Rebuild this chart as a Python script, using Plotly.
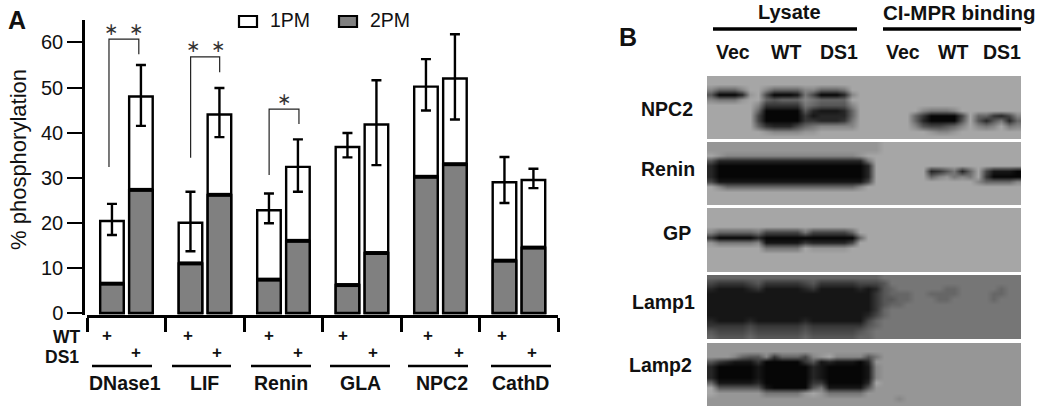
"""Phosphorylation bars (A) and western blot panels (B) on one figure."""

import plotly.graph_objects as go

WIDTH = 1050
HEIGHT = 408
INK = "#111111"
FONT = "Liberation Sans"

# Panel A values, two bars per protein (WT, DS1)
PROTEINS = ["DNase1", "LIF", "Renin", "GLA", "NPC2", "CathD"]
TOTAL = [20.4, 48.0, 20.0, 44.0, 22.8, 32.4, 36.8, 41.8, 50.2, 52.0, 29.0, 29.5]
PM2 = [6.5, 27.3, 11.0, 26.2, 7.4, 16.0, 6.2, 13.3, 30.2, 33.0, 11.6, 14.5]
ERR_UP = [3.8, 7.0, 6.9, 5.9, 3.7, 6.1, 3.1, 9.8, 6.1, 9.8, 5.6, 2.5]
ERR_DOWN = [3.1, 6.5, 6.3, 5.0, 2.9, 5.5, 2.3, 9.0, 5.3, 9.1, 4.6, 1.8]

# Significance brackets: group position of each leg, leg ends and top
BRACKET_LEFT = [0.28, 1.32, 2.32]
BRACKET_RIGHT = [0.66, 1.69, 2.70]
BRACKET_LOW = [32.4, 34.4, 30.6]
BRACKET_HIGH = [57.4, 53.4, 41.9]
BRACKET_TOP = [60.75, 56.8, 45.2]
BRACKET_STARS = ["∗  ∗", "∗  ∗", "∗"]

# Blot density per panel, one hex digit per cell (0 = black film, f = pale)
NPC2_BLOT = [
    "aaaaaaaaaaaaaaaaaaaaaaaaaaaaaaaaaaaaaaaa",
    "aaaaaaaaaaaaaaaaaaaaaaaaaaaaaaaaaaaaaaaa",
    "86668aa86666886667a",
    "500029a400017400028a",
    "87779aa65666876666a",
    "aaaaaa8333337655558a",
    "aaaaaa6000005211126aaaaaaaa87778",
    "aaaaaa4000003122226aaaaaaa6300004a663248",
    "aaaaaa4000003322237aaaaaaa6200005a525726",
    "aaaaaa6322246788888aaaaaaa8544568a878a78",
    "aaaaaaa9888899aaaaaaaaaaaaaa9889",
    "aaaaaaaaaaaaaaaaaaaaaaaaaaaaaaaaaaaaaaaa",
]
RENIN_BLOT = [
    "9999999999999999999999aaaaaaaaaaaaaaaaaa",
    "9999999999999999999999aaaaaaaaaaaaaaaaaa",
    "a9888888888888888889aa",
    "522222222222222222227a",
    "200000000000000000002a",
    "200000000000000000002aaaaaaa235726a41110",
    "200000000000000000002aaaaaaa689787a30000",
    "411111111111111111114aaaaaaaaaaaaa866668",
    "a8666666666666666668aa",
    "aaaaaaaaaaaaaaaaaaaaaa",
    "aaaaaaaaaaaaaaaaaaaaaa",
    "aaaaaaaaaaaaaaaaaaaaaa",
]
GP_BLOT = [
    "aaaaaaaaaaaaaaaaaaaaaaaaaaaaaaaaaaaaaaaa",
    "aaaaaaaaaaaaaaaaaaaaaaaaaaaaaaaaaaaaaaaa",
    "aaaaaaaaaaaaaaaaaaaaaaaaaaaaaaaaaaaaaaaa",
    "aaaaaaaaaaaaaaaaaaaaaaaaaaaaaaaaaaaaaaaa",
    "8666667444447444446a",
    "30000020000000000006",
    "97777781111132222 4a".replace(" ", "2"),
    "aaaaaaa77777a99999aa",
    "aaaaaaaaaaaaaaaaaaaaaaaaaaaaaaaaaaaaaaaa",
    "aaaaaaaaaaaaaaaaaaaaaaaaaaaaaaaaaaaaaaaa",
    "aaaaaaaaaaaaaaaaaaaaaaaaaaaaaaaaaaaaaaaa",
    "aaaaaaaaaaaaaaaaaaaaaaaaaaaaaaaaaaaaaaaa",
]
LAMP1_BLOT = [
    "6666666666666666666666777777777777777777",
    "4333345333334533333444577777777777777777",
    "2111123111112311111212567777776677777677",
    "1111111111111111111113566677666677776677",
    "1111111111111111111113556677766777776777",
    "1111111111111111111113566777777777777777",
    "1111111111111111111113677777777777777777",
    "1111111111111111111124677777777777777777",
    "2111121111112111111146777777777777777777",
    "3333343333334333333356777777777777777777",
    "5444454444445444444567777777777777777777",
    "6555565555556555555667777777777777777777",
]
LAMP2_BLOT = [
    "9999999999999999999999999999999999999999",
    "9999999999999999999999999999999999999999",
    "9998655836664 9a888857999".replace(" ", "8"),
    "532111300000351211102999",
    "200000100000021000001899",
    "200000100000021000001899",
    "200000100000021000001899",
    "611111200000033000002a99",
    "a55555510000057111115999",
    "a999999777779a9777779999",
    "9999999999999999999999998999999999999999",
    "9999999999999999999999999999999999999999",
]
BLOT_BACKGROUND = ["a", "a", "a", "7", "9"]
BLOTS = [NPC2_BLOT, RENIN_BLOT, GP_BLOT, LAMP1_BLOT, LAMP2_BLOT]
BLOT_NAMES = ["NPC2", "Renin", "GP", "Lamp1", "Lamp2"]


def px_x(x: float) -> float:
    """Page pixel to paper x."""
    return x / WIDTH


def px_y(y: float) -> float:
    """Page pixel (from top) to paper y."""
    return 1 - y / HEIGHT


def label(x, y, text, size, bold=True, color=INK, **kwargs) -> dict:
    """Text placed by page pixel."""
    return dict(
        x=px_x(x),
        y=px_y(y),
        xref="paper",
        yref="paper",
        text=f"<b>{text}</b>" if bold else text,
        showarrow=False,
        font={"family": FONT, "size": size, "color": color},
        xanchor=kwargs.pop("xanchor", "center"),
        yanchor="middle",
        **kwargs,
    )


def rule(x0, x1, y, width=2.5) -> dict:
    """Horizontal black rule placed by page pixel."""
    return dict(
        type="line",
        xref="paper",
        yref="paper",
        x0=px_x(x0),
        x1=px_x(x1),
        y0=px_y(y),
        y1=px_y(y),
        line={"color": "#000000", "width": width},
    )


def box(x0, x1, y0, y1, fill) -> dict:
    """Legend swatch placed by page pixel."""
    return dict(
        type="rect",
        xref="paper",
        yref="paper",
        x0=px_x(x0),
        x1=px_x(x1),
        y0=px_y(y0),
        y1=px_y(y1),
        fillcolor=fill,
        line={"color": "#000000", "width": 2.2},
    )


fig = go.Figure()

# Bars sit at fixed offsets inside each protein's group
bar_x = [group + offset for group in range(len(PROTEINS)) for offset in (0.318, 0.687)]

fig.add_trace(
    go.Bar(
        x=bar_x,
        y=TOTAL,
        width=0.3,
        name="1PM",
        marker={"color": "#ffffff", "line": {"color": "#000000", "width": 2.4}},
        error_y={
            "type": "data",
            "symmetric": False,
            "array": ERR_UP,
            "arrayminus": ERR_DOWN,
            "color": "#000000",
            "thickness": 2.4,
            "width": 5,
        },
    )
)
fig.add_trace(
    go.Bar(
        x=bar_x,
        y=PM2,
        width=0.3,
        name="2PM",
        marker={"color": "#808080", "line": {"color": "#000000", "width": 2.4}},
    )
)
# Heavy black edge on top of each grey bar
fig.add_trace(
    go.Scatter(
        x=[v for x in bar_x for v in (x - 0.15, x + 0.15, None)],
        y=[v for y in PM2 for v in (y, y, None)],
        mode="lines",
        line={"color": "#000000", "width": 4},
        hoverinfo="skip",
    )
)

annotations = []
for i, stars in enumerate(BRACKET_STARS):
    fig.add_trace(
        go.Scatter(
            x=[BRACKET_LEFT[i], BRACKET_LEFT[i], BRACKET_RIGHT[i], BRACKET_RIGHT[i]],
            y=[BRACKET_LOW[i], BRACKET_TOP[i], BRACKET_TOP[i], BRACKET_HIGH[i]],
            mode="lines",
            line={"color": "#222222", "width": 1.2},
            hoverinfo="skip",
        )
    )
    annotations.append(
        dict(
            x=(BRACKET_LEFT[i] + BRACKET_RIGHT[i]) / 2,
            y=BRACKET_TOP[i] + 2.3,
            xref="x",
            yref="y",
            text=stars,
            showarrow=False,
            font={"family": "DejaVu Sans", "size": 17, "color": "#333333"},
        )
    )

# One heatmap per blot strip, each on its own hidden axes
panel_tops = [76, 142, 208, 275, 343]
panel_bottoms = [139, 205, 272, 339, 406]
blot_axes = {}
for n, rows in enumerate(BLOTS):
    z = [[int(c, 16) for c in row.ljust(40, BLOT_BACKGROUND[n])[:40]] for row in rows]
    fig.add_trace(
        go.Heatmap(
            z=z,
            zmin=0,
            zmax=15,
            zsmooth="best",
            showscale=False,
            colorscale=[[0, "rgb(6,6,6)"], [1, "rgb(246,246,246)"]],
            name=BLOT_NAMES[n],
            xaxis=f"x{n + 2}",
            yaxis=f"y{n + 2}",
        )
    )
    blot_axes[f"xaxis{n + 2}"] = dict(
        domain=[px_x(707), px_x(1021)],
        range=[-0.5, 39.5],
        visible=False,
        anchor=f"y{n + 2}",
        automargin=False,
    )
    blot_axes[f"yaxis{n + 2}"] = dict(
        domain=[px_y(panel_bottoms[n]), px_y(panel_tops[n])],
        range=[11.5, -0.5],
        visible=False,
        anchor=f"x{n + 2}",
        automargin=False,
    )

# Panel A text
annotations += [
    label(17, 20, "A", 25),
    label(19, 160, "% phosphorylation", 22, bold=False, textangle=-90),
    label(268, 20, "1PM", 19.5, bold=False, xanchor="left"),
    label(368, 20, "2PM", 19.5, bold=False, xanchor="left"),
    label(83, 337, "WT", 17.5, xanchor="right"),
    label(81, 357, "DS1", 17.5, xanchor="right"),
]
for x in [107, 188, 269, 343, 428, 502]:
    annotations.append(label(x, 335, "+", 17))
for x in [136, 217, 298, 373, 459, 532]:
    annotations.append(label(x, 352, "+", 17))
for x, name in zip([125, 204, 281, 360, 442, 520], PROTEINS):
    annotations.append(label(x, 383, name, 19.5))

# Panel B text
annotations += [
    label(628, 37, "B", 25),
    label(789, 12, "Lysate", 20),
    label(959, 12, "CI-MPR binding", 20.5),
]
for x, name in zip([733, 786, 839, 903, 953, 1002], ["Vec", "WT", "DS1", "Vec", "WT", "DS1"]):
    annotations.append(label(x, 52, name, 19.5))
for x, y, name in zip([667, 668, 677, 663, 660], [109, 169, 233, 302, 365], BLOT_NAMES):
    annotations.append(label(x, y, name, 19.5))

shapes = [
    box(239, 257, 16, 27, "#ffffff"),
    box(339, 357, 16, 27, "#808080"),
    rule(92, 152, 366),
    rule(172, 231, 366),
    rule(251, 311, 366),
    rule(330, 390, 366),
    rule(408, 468, 366),
    rule(491, 551, 366),
    rule(713, 857, 29, 3.5),
    rule(883, 1021, 29, 3.5),
]

fig.update_layout(
    width=WIDTH,
    height=HEIGHT,
    margin={"l": 0, "r": 0, "t": 0, "b": 0},
    paper_bgcolor="white",
    plot_bgcolor="white",
    barmode="overlay",
    showlegend=False,
    font={"family": FONT, "color": INK},
    xaxis=dict(
        domain=[px_x(87), px_x(558)],
        range=[0, 6],
        tickvals=list(range(7)),
        showticklabels=False,
        ticks="outside",
        ticklen=14,
        tickwidth=2.5,
        tickcolor="#000000",
        showline=True,
        linecolor="#000000",
        linewidth=2.5,
        showgrid=False,
        zeroline=False,
        automargin=False,
    ),
    yaxis=dict(
        domain=[px_y(315), px_y(20)],
        range=[-0.44, 64.97],
        anchor="free",
        position=px_x(83),
        tickvals=list(range(0, 70, 10)),
        ticks="outside",
        ticklen=15,
        tickwidth=2,
        tickcolor="#000000",
        tickfont={"family": FONT, "size": 20, "color": INK},
        showline=True,
        linecolor="#000000",
        linewidth=2.5,
        showgrid=False,
        zeroline=False,
        automargin=False,
    ),
    annotations=annotations,
    shapes=shapes,
    **blot_axes,
)

# The page's default body margin would push the figure 8 px off the window corner
fig.write_html(
    "out.html",
    config={"displayModeBar": False},
    post_script="document.body.style.margin = '0';",
)
